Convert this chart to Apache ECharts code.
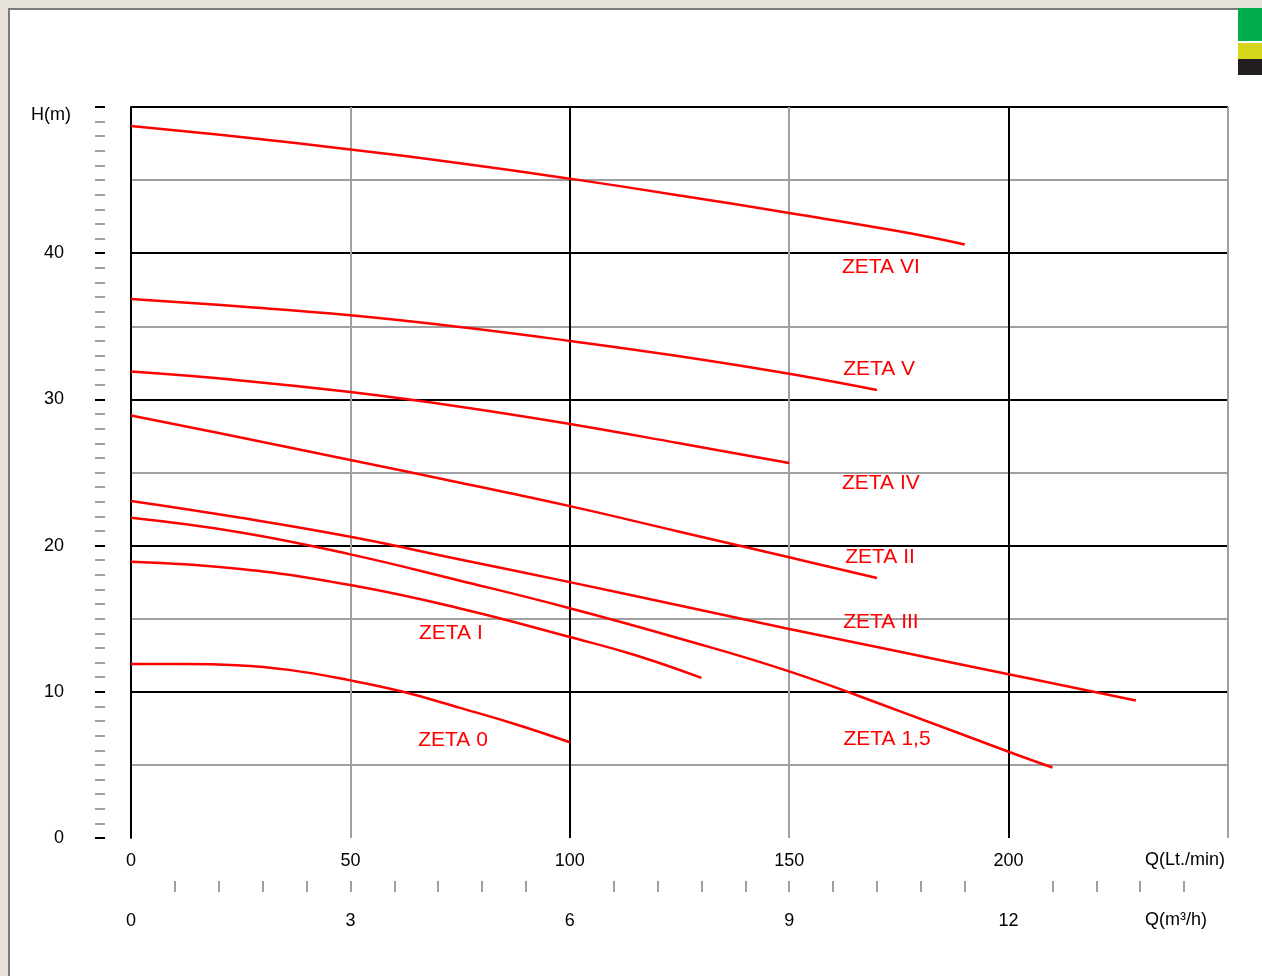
<!DOCTYPE html>
<html>
<head>
<meta charset="utf-8">
<script src="https://cdn.jsdelivr.net/npm/echarts@6.0.0/dist/echarts.min.js"></script>
<style>
  html, body { margin: 0; padding: 0; width: 1262px; height: 976px; background: #e6e2db; overflow: hidden; }
  #panel { position: absolute; left: 8px; top: 8px; width: 1254px; height: 968px; background: #ffffff;
           border-left: 2px solid #7a7a7a; border-top: 2px solid #7a7a7a; box-sizing: border-box; }
  #chart { position: absolute; left: 0; top: 0; width: 1262px; height: 976px; }
</style>
</head>
<body>
<div id="panel"></div>
<div id="chart"></div>
<script>
// ---- data (Q in Lt./min, H in m) ----
const zeta6  = [[0,48.7],[25,47.95],[50,47.1],[75,46.15],[100,45.1],[125,43.95],[150,42.75],[175,41.5],[190,40.6]];
const zeta5  = [[0,36.87],[25,36.35],[50,35.75],[75,34.95],[100,34.0],[125,32.95],[150,31.75],[170,30.64]];
const zeta4  = [[0,31.9],[25,31.3],[50,30.5],[75,29.5],[100,28.32],[125,27.0],[150,25.65]];
const zeta2  = [[0,28.9],[25,27.4],[50,25.85],[75,24.3],[100,22.7],[125,20.95],[150,19.2],[170,17.78]];
const zeta3  = [[0,23.05],[25,21.9],[50,20.6],[75,19.05],[100,17.5],[125,15.9],[150,14.3],[175,12.75],[200,11.2],[229,9.4]];
const zeta15 = [[0,21.9],[25,20.9],[50,19.4],[75,17.6],[100,15.72],[125,13.65],[150,11.4],[175,8.7],[200,5.9],[210,4.82]];
const zeta1  = [[0,18.9],[25,18.4],[50,17.3],[75,15.7],[100,13.75],[115,12.5],[130,10.95]];
const zeta0  = [[0,11.9],[12,11.9],[24,11.82],[36,11.5],[50,10.78],[62,10.0],[75,8.9],[88,7.75],[100,6.55]];

const seriesNames = ['ZETA VI','ZETA V','ZETA IV','ZETA II','ZETA III','ZETA 1,5','ZETA I','ZETA 0'];
const seriesData  = [zeta6, zeta5, zeta4, zeta2, zeta3, zeta15, zeta1, zeta0];
// label anchors (data coordinates) for curve names
const labelAnchors = [[170.9,39.06],[170.5,32.08],[170.9,24.28],[170.7,19.22],[170.9,14.77],[172.3,6.77],[72.9,14.02],[73.4,6.70]];

// axis tick values
const qLabelsM3h    = [0,50,100,150,200];            // positions (L/min) of the m3/h labels 0,3,6,9,12
const m3hMinorTicks = [10,20,30,40,50,60,70,80,90,110,120,130,140,150,160,170,180,190,210,220,230,240];

const FONT = 'Liberation Sans, Arial, sans-serif';
const RED = '#ff0000';

const chart = echarts.init(document.getElementById('chart'), null, { renderer: 'canvas' });

const series = seriesData.map((d, i) => ({
  type: 'line',
  name: seriesNames[i],
  data: d,
  xAxisIndex: 0,
  yAxisIndex: 0,
  smooth: 0.45,
  showSymbol: false,
  symbol: 'none',
  lineStyle: { color: RED, width: 2.5 },
  z: 5,
  silent: true,
  markPoint: {
    symbol: 'circle',
    symbolSize: 1,
    itemStyle: { color: 'rgba(0,0,0,0)' },
    label: { show: true, position: 'inside', formatter: seriesNames[i], color: RED, fontSize: 21, fontFamily: FONT },
    data: [{ coord: labelAnchors[i] }]
  }
}));

const option = {
  animation: false,
  backgroundColor: 'transparent',
  grid: [
    { left: 131, top: 107, width: 1097, height: 731, containLabel: false },
    { left: 105, top: 107, width: 1, height: 731, containLabel: false },
    { left: 131, top: 870, width: 1097, height: 11, containLabel: false }
  ],
  xAxis: [
    {
      gridIndex: 0, type: 'value', min: 0, max: 250, interval: 50, position: 'bottom',
      axisLine: { show: false }, axisTick: { show: false },
      axisLabel: { margin: 14, color: '#000', fontSize: 18, fontFamily: FONT,
                   formatter: v => (v === 250 ? '' : String(v)) },
      splitLine: { show: true, lineStyle: { color: ['#000000', '#a0a0a0'], width: 2 } }
    },
    { gridIndex: 1, type: 'value', min: 0, max: 1, show: false },
    {
      gridIndex: 2, type: 'value', min: 0, max: 250, position: 'bottom',
      axisLine: { show: false },
      axisTick: { show: true, customValues: m3hMinorTicks, length: 11, lineStyle: { color: '#a0a0a0', width: 2 } },
      axisLabel: { show: true, customValues: qLabelsM3h, margin: 31, color: '#000', fontSize: 18, fontFamily: FONT,
                   formatter: v => String(Math.round(v * 0.06)) },
      splitLine: { show: false }
    }
  ],
  yAxis: [
    {
      gridIndex: 0, type: 'value', min: 0, max: 50, interval: 5,
      axisLine: { show: true, lineStyle: { color: '#000', width: 2 } },
      axisTick: { show: false }, axisLabel: { show: false },
      splitLine: { show: true, showMinLine: false, lineStyle: { color: ['#a0a0a0', '#000000'], width: 2 } }
    },
    {
      gridIndex: 1, type: 'value', min: 0, max: 50, interval: 10, position: 'left',
      axisLine: { show: false },
      axisTick: { show: true, length: 10, lineStyle: { color: '#000', width: 2 } },
      minorTick: { show: true, splitNumber: 10, length: 10, lineStyle: { color: '#a0a0a0', width: 2 } },
      axisLabel: { show: true, margin: 41, color: '#000', fontSize: 18, fontFamily: FONT,
                   formatter: v => (v === 50 ? '' : String(v)) },
      splitLine: { show: false }
    },
    { gridIndex: 2, type: 'value', min: 0, max: 1, show: false }
  ],
  graphic: [
    { type: 'text', left: 31, top: 106, style: { text: 'H(m)', fill: '#000', font: '18px ' + FONT } },
    { type: 'text', left: 1145, top: 851, style: { text: 'Q(Lt./min)', fill: '#000', font: '18px ' + FONT } },
    { type: 'text', left: 1145, top: 911, style: { text: 'Q(m³/h)', fill: '#000', font: '18px ' + FONT } },
    { type: 'rect', shape: { x: 1238, y: 8, width: 24, height: 33 }, style: { fill: '#00ae4f' } },
    { type: 'rect', shape: { x: 1238, y: 43, width: 24, height: 16 }, style: { fill: '#d6d61c' } },
    { type: 'rect', shape: { x: 1238, y: 59, width: 24, height: 16 }, style: { fill: '#231f20' } }
  ],
  series: series
};

chart.setOption(option);
</script>
</body>
</html>
